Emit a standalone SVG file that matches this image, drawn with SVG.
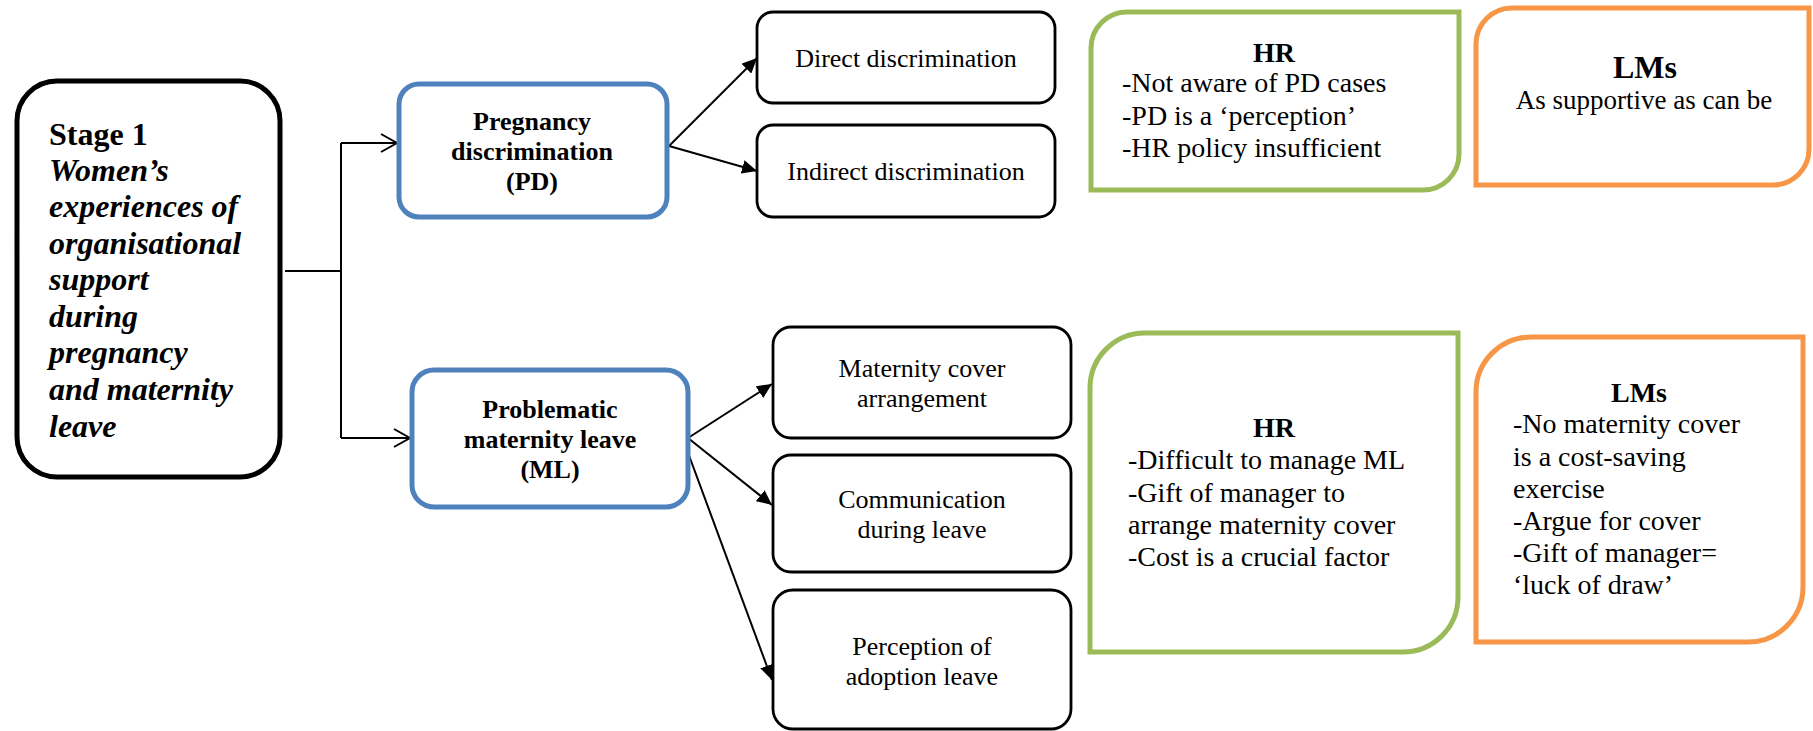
<svg xmlns="http://www.w3.org/2000/svg" width="1813" height="731" viewBox="0 0 1813 731">
  <style>
    text { fill: #000; }
    .stage { font-size: 32px; font-weight: bold; }
    .stage-it { font-size: 32px; font-weight: bold; font-style: italic; }
    .theme { font-size: 26px; font-weight: bold; text-anchor: middle; }
    .sub { font-size: 26px; text-anchor: middle; }
    .head { font-size: 28px; font-weight: bold; text-anchor: middle; }
    .note { font-size: 28px; }
    .box-main { fill: #fff; stroke: #000; stroke-width: 5; }
    .box-theme { fill: #fff; stroke: #4F81BD; stroke-width: 5; }
    .box-sub { fill: #fff; stroke: #000; stroke-width: 2.8; }
    .box-hr { fill: #fff; stroke: #9BBB59; stroke-width: 5; }
    .box-lm { fill: #fff; stroke: #F79646; stroke-width: 5; }
    .link { fill: none; stroke: #000; stroke-width: 2; }
    .open-head { fill: none; stroke: #000; stroke-width: 2; }
  </style>
  <defs>
    <marker id="solid-arrow" markerWidth="16" markerHeight="14" refX="15" refY="7" orient="auto" markerUnits="userSpaceOnUse">
      <path d="M0,0 L15,7 L0,14 Z" fill="#000"/>
    </marker>
  </defs>

  <rect width="1813" height="731" fill="#fff"/>

  <!-- connectors -->
  <g id="connectors">
    <path class="link" d="M285,271 H341 M341,143 V438 M341,143 H397 M341,438 H410"/>
    <path class="open-head" d="M381,134 L397,143 L381,152 M394,429 L410,438 L394,447"/>
    <line class="link" x1="669" y1="146" x2="757" y2="58" marker-end="url(#solid-arrow)"/>
    <line class="link" x1="669" y1="146" x2="757" y2="171" marker-end="url(#solid-arrow)"/>
    <line class="link" x1="688" y1="438" x2="772" y2="384" marker-end="url(#solid-arrow)"/>
    <line class="link" x1="688" y1="438" x2="772" y2="505" marker-end="url(#solid-arrow)"/>
    <line class="link" x1="687" y1="450" x2="772" y2="680" marker-end="url(#solid-arrow)"/>
  </g>

  <g font-family="'Liberation Serif', Tinos, 'Times New Roman', 'DejaVu Serif', serif">
  <g id="stage1">
    <rect class="box-main" x="17" y="81" width="263" height="396" rx="40" ry="40"/>
    <text class="stage" x="49" y="145">Stage 1</text>
    <text class="stage-it" x="49" y="181">Women’s</text>
    <text class="stage-it" x="49" y="217">experiences of</text>
    <text class="stage-it" x="49" y="254">organisational</text>
    <text class="stage-it" x="49" y="290">support</text>
    <text class="stage-it" x="49" y="327">during</text>
    <text class="stage-it" x="49" y="363">pregnancy</text>
    <text class="stage-it" x="49" y="400">and maternity</text>
    <text class="stage-it" x="49" y="437">leave</text>
  </g>

  <g id="pd">
    <rect class="box-theme" x="399" y="84" width="268" height="133" rx="20" ry="20"/>
    <text class="theme" x="532" y="130">Pregnancy</text>
    <text class="theme" x="532" y="160">discrimination</text>
    <text class="theme" x="532" y="190">(PD)</text>
  </g>

  <g id="ml">
    <rect class="box-theme" x="412" y="370" width="276" height="137" rx="22" ry="22"/>
    <text class="theme" x="550" y="418">Problematic</text>
    <text class="theme" x="550" y="448">maternity leave</text>
    <text class="theme" x="550" y="478">(ML)</text>
  </g>

  <g id="direct">
    <rect class="box-sub" x="757" y="12" width="298" height="91" rx="16" ry="16"/>
    <text class="sub" x="906" y="67">Direct discrimination</text>
  </g>

  <g id="indirect">
    <rect class="box-sub" x="757" y="125" width="298" height="92" rx="16" ry="16"/>
    <text class="sub" x="906" y="180">Indirect discrimination</text>
  </g>

  <g id="cover">
    <rect class="box-sub" x="773" y="327" width="298" height="111" rx="18" ry="18"/>
    <text class="sub" x="922" y="377">Maternity cover</text>
    <text class="sub" x="922" y="407">arrangement</text>
  </g>

  <g id="communication">
    <rect class="box-sub" x="773" y="455" width="298" height="117" rx="18" ry="18"/>
    <text class="sub" x="922" y="508">Communication</text>
    <text class="sub" x="922" y="538">during leave</text>
  </g>

  <g id="adoption">
    <rect class="box-sub" x="773" y="590" width="298" height="139" rx="20" ry="20"/>
    <text class="sub" x="922" y="655">Perception of</text>
    <text class="sub" x="922" y="685">adoption leave</text>
  </g>

  <g id="hr-pd">
    <path class="box-hr" d="M1127,12 H1459 V154 A36,36 0 0 1 1423,190 H1091 V48 A36,36 0 0 1 1127,12 Z"/>
    <text class="head" x="1274" y="62">HR</text>
    <text class="note" x="1122" y="92">-Not aware of PD cases</text>
    <text class="note" x="1122" y="125">-PD is a ‘perception’</text>
    <text class="note" x="1122" y="157">-HR policy insufficient</text>
  </g>

  <g id="lm-pd">
    <path class="box-lm" d="M1512,8 H1809 V149 A36,36 0 0 1 1773,185 H1476 V44 A36,36 0 0 1 1512,8 Z"/>
    <text class="head" x="1645" y="78" style="font-size:32px">LMs</text>
    <text class="sub" x="1644" y="109" style="font-size:27px">As supportive as can be</text>
  </g>

  <g id="hr-ml">
    <path class="box-hr" d="M1145,333 H1458 V597 A55,55 0 0 1 1403,652 H1090 V388 A55,55 0 0 1 1145,333 Z"/>
    <text class="head" x="1274" y="437">HR</text>
    <text class="note" x="1128" y="469">-Difficult to manage ML</text>
    <text class="note" x="1128" y="502">-Gift of manager to</text>
    <text class="note" x="1128" y="534">arrange maternity cover</text>
    <text class="note" x="1128" y="566">-Cost is a crucial factor</text>
  </g>

  <g id="lm-ml">
    <path class="box-lm" d="M1531,337 H1803 V587 A55,55 0 0 1 1748,642 H1476 V392 A55,55 0 0 1 1531,337 Z"/>
    <text class="head" x="1639" y="402">LMs</text>
    <text class="note" x="1513" y="433">-No maternity cover</text>
    <text class="note" x="1513" y="466">is a cost-saving</text>
    <text class="note" x="1513" y="498">exercise</text>
    <text class="note" x="1513" y="530">-Argue for cover</text>
    <text class="note" x="1513" y="562">-Gift of manager=</text>
    <text class="note" x="1513" y="594">‘luck of draw’</text>
  </g>
  </g>
</svg>
